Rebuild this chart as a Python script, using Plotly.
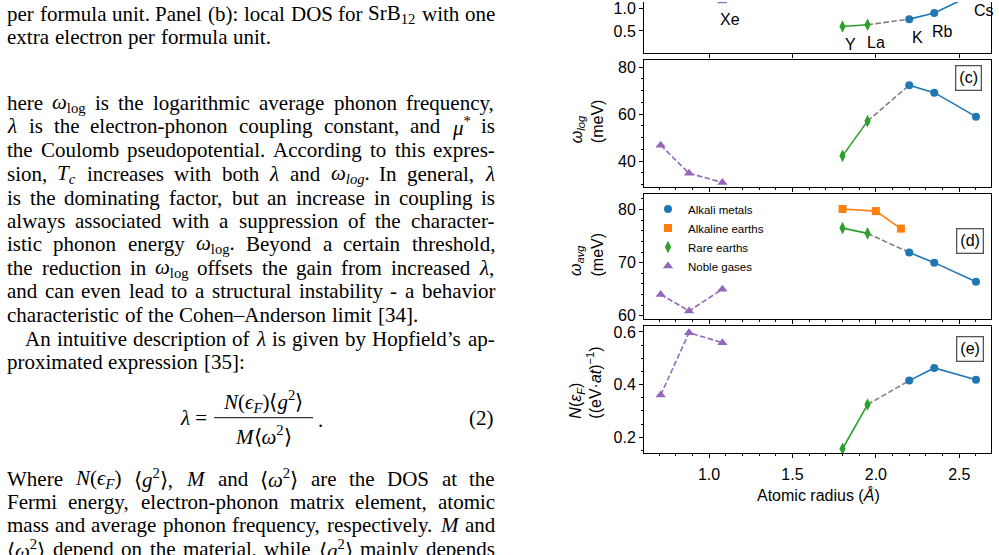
import re
import plotly.graph_objects as go

W, H = 999, 555


def px(x):
    return x / W


def py(y):
    return 1 - y / H


# ---------------- data ----------------
radius_alkali = [2.20, 2.35, 2.60]
radius_alkaline = [1.80, 2.00, 2.15]
radius_rare = [1.80, 1.95]
radius_noble = [0.71, 0.88, 1.08]

names_alkali = ["K", "Rb", "Cs"]
names_rare = ["Y", "La"]
names_noble = ["Ar", "Kr", "Xe"]

lam_alkali = [0.765, 0.90, 1.35]
lam_rare = [0.60, 0.64]
lam_noble = [None, None, 1.17]

wlog_alkali = [72.3, 69.1, 58.9]
wlog_rare = [42.2, 57.0]
wlog_noble = [46.7, 34.8, 30.9]

wavg_alkali = [71.9, 70.0, 66.4]
wavg_alkaline = [80.1, 79.7, 76.4]
wavg_rare = [76.5, 75.5]
wavg_noble = [64.0, 60.9, 65.0]

dos_alkali = [0.415, 0.463, 0.418]
dos_rare = [0.156, 0.324]
dos_noble = [0.36, 0.597, 0.559]

x_ticks = [1.0, 1.5, 2.0, 2.5]

# ---------------- styles ----------------
SANS = "Liberation Sans, Arial, sans-serif"
SERIF = "Liberation Serif, Times New Roman, serif"
DASH = "5.5px,2.5px"
groups = {
    "alkali": dict(name="Alkali metals", color="#1f77b4", symbol="circle", size=8, dash="solid"),
    "alkaline": dict(name="Alkaline earths", color="#ff7f0e", symbol="square", size=8, dash="solid"),
    "rare": dict(name="Rare earths", color="#2ca02c", symbol="diamond-tall", size=9, dash="solid"),
    "noble": dict(name="Noble gases", color="#9467bd", symbol="triangle-up", size=9, dash=DASH),
}
radii = {"alkali": radius_alkali, "alkaline": radius_alkaline, "rare": radius_rare, "noble": radius_noble}

panels = [
    dict(ax="", dom=[py(52), 1.0], rng=[0.0, 1.148], tickvals=[0.5, 1.0], minor=None, clip=True,
         data={"alkali": lam_alkali, "rare": lam_rare, "noble": lam_noble}),
    dict(ax="2", dom=[py(187), py(59)], rng=[29.1, 82.9], tickvals=[40, 60, 80], minor=5, clip=False,
         data={"alkali": wlog_alkali, "rare": wlog_rare, "noble": wlog_noble}),
    dict(ax="3", dom=[py(321), py(194)], rng=[59.4, 83.0], tickvals=[60, 70, 80], minor=2, clip=False,
         data={"alkali": wavg_alkali, "alkaline": wavg_alkaline, "rare": wavg_rare, "noble": wavg_noble}),
    dict(ax="4", dom=[py(457), py(328)], rng=[0.139, 0.623], tickvals=[0.2, 0.4, 0.6], minor=0.05, clip=False,
         data={"alkali": dos_alkali, "rare": dos_rare, "noble": dos_noble}),
]

fig = go.Figure()

for p in panels:
    xa, ya = "x" + p["ax"], "y" + p["ax"]
    d = p["data"]
    fig.add_trace(go.Scatter(
        x=[radius_rare[-1], radius_alkali[0]], y=[d["rare"][-1], d["alkali"][0]],
        mode="lines", line=dict(color="#7f7f7f", width=1.6, dash=DASH),
        xaxis=xa, yaxis=ya, showlegend=False, hoverinfo="skip", cliponaxis=p["clip"]))
    for g in ["alkali", "alkaline", "rare", "noble"]:
        if g not in d:
            continue
        s = groups[g]
        fig.add_trace(go.Scatter(
            x=radii[g], y=d[g], mode="lines+markers",
            line=dict(color=s["color"], width=1.6, dash=s["dash"]),
            marker=dict(color=s["color"], symbol=s["symbol"], size=s["size"]),
            xaxis=xa, yaxis=ya, showlegend=False, cliponaxis=p["clip"]))

for g in ["alkali", "alkaline", "rare", "noble"]:
    s = groups[g]
    fig.add_trace(go.Scatter(
        x=[None], y=[None], mode="markers", name=s["name"],
        marker=dict(color=s["color"], symbol=s["symbol"], size=s["size"]),
        xaxis="x3", yaxis="y3"))

axis_common = dict(showline=True, linecolor="black", linewidth=1, ticks="outside",
                   ticklen=4, tickwidth=1, tickcolor="black", showgrid=False,
                   zeroline=False, tickfont=dict(family=SANS, size=16, color="black"))

layout = dict(
    width=W, height=H, margin=dict(l=0, r=0, t=0, b=0),
    paper_bgcolor="white", plot_bgcolor="white",
    font=dict(family=SANS, color="black"),
    legend=dict(x=px(648), y=py(195), xanchor="left", yanchor="top",
                bgcolor="rgba(0,0,0,0)", font=dict(family=SANS, size=11.5),
                tracegroupgap=0),
    showlegend=True,
)

for i, p in enumerate(panels):
    last = i == len(panels) - 1
    xa = dict(axis_common)
    xa.update(domain=[px(644), px(991)], range=[0.61, 2.69], anchor="y" + p["ax"],
              tickmode="array", tickvals=x_ticks, ticktext=[f"{v:.1f}" for v in x_ticks],
              showticklabels=last, mirror=(i != 0), ticklabelstandoff=3)
    if i != 0:
        xa["minor"] = dict(dtick=0.1, tick0=0.0, ticklen=2, tickwidth=1, tickcolor="black", ticks="outside")
    ya = dict(axis_common)
    ya.update(domain=p["dom"], range=p["rng"], anchor="x" + p["ax"], tickmode="array",
              tickvals=p["tickvals"], ticktext=[f"{v:g}" if v >= 10 else f"{v:.1f}" for v in p["tickvals"]],
              mirror=True)
    if p["minor"]:
        ya["minor"] = dict(dtick=p["minor"], tick0=0, ticklen=2, tickwidth=1, tickcolor="black", ticks="outside")
    layout["xaxis" + p["ax"]] = xa
    layout["yaxis" + p["ax"]] = ya

fig.update_layout(**layout)

annotations = []

# element labels in top panel (positions derived from data via axis scaling)
p0 = panels[0]
for g, names in [("alkali", names_alkali), ("rare", names_rare), ("noble", names_noble)]:
    for r, v, n in zip(radii[g], p0["data"][g], names):
        if v is None:
            continue
        yp = p0["dom"][0] + (v - p0["rng"][0]) / (p0["rng"][1] - p0["rng"][0]) * (p0["dom"][1] - p0["dom"][0])
        annotations.append(dict(x=r, y=yp, xref="x", yref="paper", text=n, showarrow=False,
                                xanchor="center", yanchor="middle", xshift=8, yshift=-18,
                                font=dict(family=SANS, size=16, color="black")))

# panel tags
for tag, cx, cy in [("(c)", 968.5, 76.5), ("(d)", 969.5, 242), ("(e)", 969.5, 351)]:
    annotations.append(dict(x=px(cx), y=py(cy), xref="paper", yref="paper", text=tag,
                            showarrow=False, xanchor="center", yanchor="middle",
                            bordercolor="#555555", borderwidth=1.3, borderpad=3, bgcolor="white",
                            font=dict(family=SANS, size=16, color="black")))

# y-axis titles (two lines each, bottom aligned)
ytitles = [
    ("<i>ω<sub>log</sub></i>", "(meV)", 145, 577, 597),
    ("<i>ω<sub>avg</sub></i>", "(meV)", 280, 577, 597),
    ("<i>N</i>(<i>ε<sub>F</sub></i>)", "((eV·<i>at</i>)<sup>−1</sup>)", 424, 577, 594),
]
for l1, l2, by, x1, x2 in ytitles:
    annotations.append(dict(x=px(x1), y=py(by), xref="paper", yref="paper", text=l1, textangle=-90,
                            showarrow=False, xanchor="center", yanchor="bottom",
                            font=dict(family=SANS, size=16, color="black")))
    annotations.append(dict(x=px(x2), y=py(by), xref="paper", yref="paper", text=l2, textangle=-90,
                            showarrow=False, xanchor="center", yanchor="bottom",
                            font=dict(family=SANS, size=16, color="black")))

annotations.append(dict(x=px(818), y=py(499), xref="paper", yref="paper",
                        text="Atomic radius (<i>Å</i>)", showarrow=False,
                        xanchor="center", yanchor="middle",
                        font=dict(family=SANS, size=16, color="black")))

# ---------------- page text (left column, justified) ----------------
TW = {' ': 250, '!': 333, '(': 333, ')': 333, '*': 500, ',': 250, '-': 333, '.': 250, ':': 278,
      '[': 333, ']': 333, '0': 500, '1': 500, '2': 500, '3': 500, '4': 500, '5': 500, '6': 500,
      '7': 500, '8': 500, '9': 500, '=': 564,
      'A': 722, 'B': 667, 'C': 667, 'D': 722, 'E': 611, 'F': 556, 'G': 722, 'H': 722, 'I': 333,
      'J': 389, 'K': 722, 'L': 611, 'M': 889, 'N': 722, 'O': 722, 'P': 556, 'Q': 722, 'R': 667,
      'S': 556, 'T': 611, 'U': 722, 'V': 722, 'W': 944, 'X': 722, 'Y': 722, 'Z': 611,
      'a': 444, 'b': 500, 'c': 444, 'd': 500, 'e': 444, 'f': 333, 'g': 500, 'h': 500, 'i': 278,
      'j': 278, 'k': 500, 'l': 278, 'm': 778, 'n': 500, 'o': 500, 'p': 500, 'q': 500, 'r': 333,
      's': 389, 't': 278, 'u': 500, 'v': 500, 'w': 722, 'x': 500, 'y': 500, 'z': 444,
      '’': 333, '–': 500, 'ω': 690, 'λ': 500, 'μ': 520, 'ϵ': 440, '⟨': 390, '⟩': 390}
FS = 21
LEFT, RIGHT = 7, 495


def tok_width(html, size=FS):
    w, scale = 0.0, 1.0
    for part in re.split(r"(<[^>]+>)", html):
        if part.startswith("<"):
            tag = part.strip("</>").lower()
            if tag in ("sub", "sup"):
                scale = 1.0 if part.startswith("</") else 0.7
            continue
        for ch in part:
            w += TW.get(ch, 500) * scale
    return w * size / 1000.0


text_lines = [
    (LEFT, 12, True, "per formula unit. Panel (b): local DOS for SrB<sub>12</sub> with one"),
    (LEFT, 35, False, "extra electron per formula unit."),
    (LEFT, 102, True, "here <i>ω</i><sub>log</sub> is the logarithmic average phonon frequency,"),
    (LEFT, 126, True, "<i>λ</i> is the electron-phonon coupling constant, and <i>μ</i><sup>*</sup> is"),
    (LEFT, 150, True, "the Coulomb pseudopotential. According to this expres-"),
    (LEFT, 174, True, "sion, <i>T<sub>c</sub></i> increases with both <i>λ</i> and <i>ω<sub>log</sub></i>. In general, <i>λ</i>"),
    (LEFT, 198, True, "is the dominating factor, but an increase in coupling is"),
    (LEFT, 222, True, "always associated with a suppression of the character-"),
    (LEFT, 245, True, "istic phonon energy <i>ω</i><sub>log</sub>. Beyond a certain threshold,"),
    (LEFT, 269, True, "the reduction in <i>ω</i><sub>log</sub> offsets the gain from increased <i>λ</i>,"),
    (LEFT, 293, True, "and can even lead to a structural instability - a behavior"),
    (LEFT, 317, False, "characteristic of the Cohen–Anderson limit [34]."),
    (LEFT + 18, 341, True, "An intuitive description of <i>λ</i> is given by Hopfield’s ap-"),
    (LEFT, 365, False, "proximated expression [35]:"),
    (LEFT, 483, True, "Where <i>N</i>(<i>ϵ<sub>F</sub></i>) ⟨<i>g</i><sup>2</sup>⟩, <i>M</i> and ⟨<i>ω</i><sup>2</sup>⟩ are the DOS at the"),
    (LEFT, 506, True, "Fermi energy, electron-phonon matrix element, atomic"),
    (LEFT, 530, True, "mass and average phonon frequency, respectively. <i>M</i> and"),
    (LEFT, 554, True, "⟨<i>ω</i><sup>2</sup>⟩ depend on the material, while ⟨<i>g</i><sup>2</sup>⟩ mainly depends"),
]

for x0, y0, justify, t in text_lines:
    words = t.split(" ")
    widths = [tok_width(wd) for wd in words]
    if justify and len(words) > 1:
        gap = (RIGHT - x0 - sum(widths)) / (len(words) - 1)
    else:
        gap = TW[" "] * FS / 1000.0 * 1.1
    xc = x0
    for wd, wdw in zip(words, widths):
        annotations.append(dict(x=px(xc), y=py(y0), xref="paper", yref="paper", text=wd,
                                showarrow=False, xanchor="left", yanchor="middle",
                                borderpad=0, borderwidth=0,
                                font=dict(family=SERIF, size=FS, color="black")))
        xc += wdw + gap

# equation (2)
eq = [
    (209, 421, "<i>λ</i> =", "right"),
    (263, 405, "<i>N</i>(<i>ϵ<sub>F</sub></i>)⟨<i>g</i><sup>2</sup>⟩", "center"),
    (263, 439, "<i>M</i>⟨<i>ω</i><sup>2</sup>⟩", "center"),
    (316, 423, ".", "left"),
    (496, 421, "(2)", "right"),
]
for x0, y0, t, anc in eq:
    annotations.append(dict(x=px(x0), y=py(y0), xref="paper", yref="paper", text=t,
                            showarrow=False, xanchor=anc, yanchor="middle",
                            font=dict(family=SERIF, size=FS, color="black")))

fig.update_layout(annotations=annotations,
                  shapes=[dict(type="line", xref="paper", yref="paper",
                               x0=px(214), x1=px(313), y0=py(421), y1=py(421),
                               line=dict(color="black", width=1))])

fig.write_html("out.html")
